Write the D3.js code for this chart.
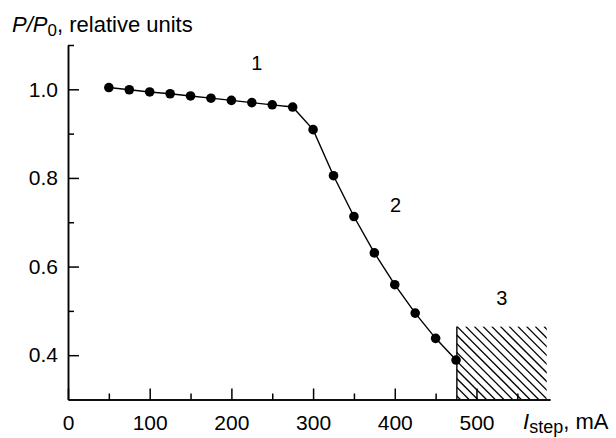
<!DOCTYPE html>
<html>
<head>
<meta charset="utf-8">
<script src="https://cdn.jsdelivr.net/npm/d3@7"></script>
<style>
  body { margin: 0; background: #fff; }
  svg { display: block; font-family: "Liberation Sans", Arial, sans-serif; }
  .axis path, .axis line { stroke: #000; stroke-width: 1.5px; }
  .axis text { font-size: 21px; fill: #000; font-family: "Liberation Sans", Arial, sans-serif; }
</style>
</head>
<body>
<div id="chart"></div>
<script>
// data
var currents = [50, 75, 100, 125, 150, 175, 200, 225, 250, 275, 300, 325, 350, 375, 400, 425, 450, 475];
var ratios = [1.004, 0.999, 0.994, 0.990, 0.985, 0.980, 0.975, 0.970, 0.965, 0.960, 0.909, 0.805, 0.713, 0.631, 0.559, 0.495, 0.438, 0.389];
var xMajorTicks = [0, 100, 200, 300, 400, 500];
var xMinorTicks = [50, 150, 250, 350, 450, 550];
var yMajorTicks = [0.4, 0.6, 0.8, 1.0];
var yMinorTicks = [0.5, 0.7, 0.9, 1.1];
var hatchX = [476, 586];
var hatchY = [0.3, 0.465];
var regionNames = ["1", "2", "3"];
var regionAt = [[231, 1.06], [401, 0.739], [531, 0.529]];

(function () {
	'use strict';
	var W = 616, H = 438;
	var svg = d3.select("#chart").append("svg")
		.attr("width", W)
		.attr("height", H);

	var x = d3.scaleLinear().domain([0, 590]).range([68, 550]);
	var y = d3.scaleLinear().domain([0.3, 1.1]).range([399.5, 45]);

	//Hachura (regiao 3)
	var hx0 = x(hatchX[0]), hx1 = x(hatchX[1]);
	var hy0 = y(hatchY[1]), hy1 = y(hatchY[0]);
	var hh = hy1 - hy0;
	svg.append("defs").append("clipPath")
		.attr("id", "hclip")
		.append("rect")
		.attr("x", hx0).attr("y", hy0)
		.attr("width", hx1 - hx0).attr("height", hh);
	var step = 8.7;
	var offs = d3.range(-Math.ceil(hh / step) * step, hx1 - hx0 + step, step);
	svg.append("g")
		.attr("clip-path", "url(#hclip)")
		.selectAll("line")
		.data(offs)
		.enter()
		.append("line")
		.attr("x1", function (c) { return hx0 + c; })
		.attr("y1", hy0)
		.attr("x2", function (c) { return hx0 + c + hh; })
		.attr("y2", hy1)
		.attr("stroke", "#000")
		.attr("stroke-width", 1.3);
	svg.append("line")
		.attr("x1", hx0).attr("x2", hx0)
		.attr("y1", hy0).attr("y2", hy1)
		.attr("stroke", "#000")
		.attr("stroke-width", 1.4);

	//Eixos
	svg.append("g")
		.attr("class", "axis")
		.attr("transform", "translate(0," + y(0.3) + ")")
		.call(d3.axisBottom(x).tickValues(xMajorTicks).tickSize(-11).tickSizeOuter(0).tickPadding(16).tickFormat(d3.format("d")));
	svg.append("g")
		.attr("class", "axis")
		.attr("transform", "translate(0," + y(0.3) + ")")
		.call(d3.axisBottom(x).tickValues(xMinorTicks).tickSize(-6).tickSizeOuter(0).tickFormat(""));
	svg.append("g")
		.attr("class", "axis")
		.attr("transform", "translate(" + x(0) + ",0)")
		.call(d3.axisLeft(y).tickValues(yMajorTicks).tickSize(-11).tickSizeOuter(0).tickPadding(10).tickFormat(d3.format(".1f")));
	svg.append("g")
		.attr("class", "axis")
		.attr("transform", "translate(" + x(0) + ",0)")
		.call(d3.axisLeft(y).tickValues(yMinorTicks).tickSize(-6).tickSizeOuter(0).tickFormat(""));

	//Curva
	var pts = currents.map(function (c, i) { return [c, ratios[i]]; });
	var line = d3.line()
		.x(function (d) { return x(d[0]); })
		.y(function (d) { return y(d[1]); });
	svg.append("path")
		.datum(pts)
		.attr("fill", "none")
		.attr("stroke", "#000")
		.attr("stroke-width", 1.4)
		.attr("d", line);
	svg.selectAll(".dot")
		.data(pts)
		.enter()
		.append("circle")
		.attr("class", "dot")
		.attr("cx", function (d) { return x(d[0]); })
		.attr("cy", function (d) { return y(d[1]); })
		.attr("r", 4.8)
		.attr("fill", "#000");

	//Numeros das regioes
	svg.selectAll(".region")
		.data(regionNames)
		.enter()
		.append("text")
		.attr("class", "region")
		.attr("x", function (d, i) { return x(regionAt[i][0]); })
		.attr("y", function (d, i) { return y(regionAt[i][1]); })
		.attr("dy", "0.35em")
		.attr("text-anchor", "middle")
		.attr("font-size", 20)
		.text(function (d) { return d; });

	//Titulos dos eixos
	var yt = svg.append("text")
		.attr("x", 12)
		.attr("y", 32)
		.attr("font-size", 22);
	yt.append("tspan").attr("font-style", "italic").text("P");
	yt.append("tspan").attr("font-style", "italic").text("/");
	yt.append("tspan").attr("font-style", "italic").text("P");
	yt.append("tspan").attr("font-size", 17).attr("dy", 4).text("0");
	yt.append("tspan").attr("dy", -4).text(", relative units");

	var xt = svg.append("text")
		.attr("x", 523)
		.attr("y", 429)
		.attr("font-size", 22);
	xt.append("tspan").attr("font-style", "italic").text("I");
	xt.append("tspan").attr("font-size", 18).attr("dy", 4).text("step");
	xt.append("tspan").attr("dy", -4).text(", mA");
}());
</script>
</body>
</html>
